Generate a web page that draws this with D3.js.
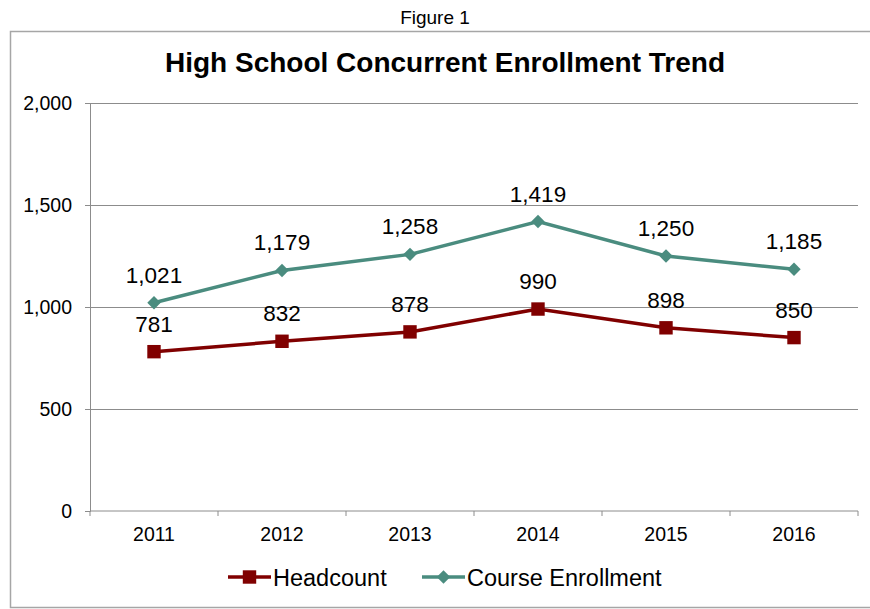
<!DOCTYPE html>
<html>
<head>
<meta charset="utf-8">
<script src="https://cdn.jsdelivr.net/npm/d3@7"></script>
<style>
  body { margin: 0; background: #fff; }
  svg { display: block; font-family: "Liberation Sans", Arial, sans-serif; }
</style>
</head>
<body>
<svg id="main-svg" width="870" height="609"></svg>
<script>
// chart data
const years = ["2011", "2012", "2013", "2014", "2015", "2016"];
const headcount = [781, 832, 878, 990, 898, 850];
const courseEnrollment = [1021, 1179, 1258, 1419, 1250, 1185];
const yTicks = [0, 500, 1000, 1500, 2000];

const red = "#800000";
const teal = "#4a8c7f";
const fontFam = "Liberation Sans, Arial, sans-serif";

const svg = d3.select("#main-svg");

// caption above the box
svg.append("text")
    .attr("x", 435).attr("y", 24)
    .attr("text-anchor", "middle")
    .attr("font-size", "19px")
    .text("Figure 1");

// outer chart border
svg.append("rect")
    .attr("x", 10.5).attr("y", 31.5)
    .attr("width", 880).attr("height", 576)
    .attr("fill", "none")
    .attr("stroke", "#a6a6a6")
    .attr("stroke-width", 1.5);

svg.append("text")
    .attr("x", 445).attr("y", 72)
    .attr("text-anchor", "middle")
    .attr("font-size", "28px")
    .attr("font-weight", "bold")
    .text("High School Concurrent Enrollment Trend");

const margin = { left: 90, right: 12, top: 103, bottom: 98 };
const width = 870 - margin.left - margin.right;
const height = 609 - margin.top - margin.bottom;

const g = svg.append("g")
    .attr("transform", `translate(${margin.left},${margin.top})`);

const x = d3.scaleBand().domain(years).range([0, width]);
const y = d3.scaleLinear().domain([0, 2000]).range([height, 0]);
const cx = d => x(d) + x.bandwidth() / 2;

// gridlines
g.append("g")
    .selectAll("line")
    .data(yTicks.filter(t => t > 0))
    .join("line")
    .attr("x1", 0).attr("x2", width)
    .attr("y1", d => Math.round(y(d)) + 0.5)
    .attr("y2", d => Math.round(y(d)) + 0.5)
    .attr("stroke", "#8c8c8c");

// y axis
const yAxis = g.append("g")
    .call(d3.axisLeft(y).tickValues(yTicks).tickSize(5).tickPadding(13).tickFormat(d3.format(",")));
yAxis.selectAll("text").attr("font-size", "19.5px").attr("fill", "#000").attr("font-family", fontFam);
yAxis.selectAll("line, path").attr("stroke", "#8c8c8c");

// x axis with ticks between categories
const xAxis = g.append("g")
    .attr("transform", `translate(0,${height})`)
    .call(d3.axisBottom(x).tickSize(0).tickPadding(16));
xAxis.selectAll("text").attr("font-size", "19.5px").attr("fill", "#000").attr("font-family", fontFam);
xAxis.select("path").attr("stroke", "#8c8c8c").attr("d", `M0,0H${width}`);
xAxis.append("g")
    .selectAll("line")
    .data(d3.range(years.length + 1))
    .join("line")
    .attr("x1", i => i * x.bandwidth()).attr("x2", i => i * x.bandwidth())
    .attr("y1", 0).attr("y2", 5)
    .attr("stroke", "#8c8c8c");

const line = d3.line()
    .x((d, i) => cx(years[i]))
    .y(d => y(d));

// diamond = square turned 45 degrees
const series = [
    { name: "Headcount", values: headcount, color: red, size: 180, rot: 0 },
    { name: "Course Enrollment", values: courseEnrollment, color: teal, size: 90, rot: 45 }
];

series.forEach(s => {
    g.append("path")
        .datum(s.values)
        .attr("fill", "none")
        .attr("stroke", s.color)
        .attr("stroke-width", 3.5)
        .attr("d", line);

    g.selectAll(null)
        .data(s.values)
        .join("path")
        .attr("transform", (d, i) => `translate(${cx(years[i])},${y(d)}) rotate(${s.rot})`)
        .attr("d", d3.symbol().type(d3.symbolSquare).size(s.size))
        .attr("fill", s.color);

    g.selectAll(null)
        .data(s.values)
        .join("text")
        .attr("x", (d, i) => cx(years[i]))
        .attr("y", d => y(d) - 20)
        .attr("text-anchor", "middle")
        .attr("font-size", "22.5px")
        .text(d => d3.format(",")(d));
});

// legend
const legend = svg.append("g").attr("transform", "translate(0,577)");
const legendItems = [
    { s: series[0], x: 228 },
    { s: series[1], x: 422 }
];
legendItems.forEach(({ s, x: lx }) => {
    legend.append("line")
        .attr("x1", lx).attr("x2", lx + 43)
        .attr("y1", 0).attr("y2", 0)
        .attr("stroke", s.color).attr("stroke-width", 3.5);
    legend.append("path")
        .attr("transform", `translate(${lx + 21.5},0) rotate(${s.rot})`)
        .attr("d", d3.symbol().type(d3.symbolSquare).size(s.size))
        .attr("fill", s.color);
    legend.append("text")
        .attr("x", lx + 45).attr("y", 8.5)
        .attr("font-size", "23.5px")
        .text(s.name);
});
</script>
</body>
</html>
